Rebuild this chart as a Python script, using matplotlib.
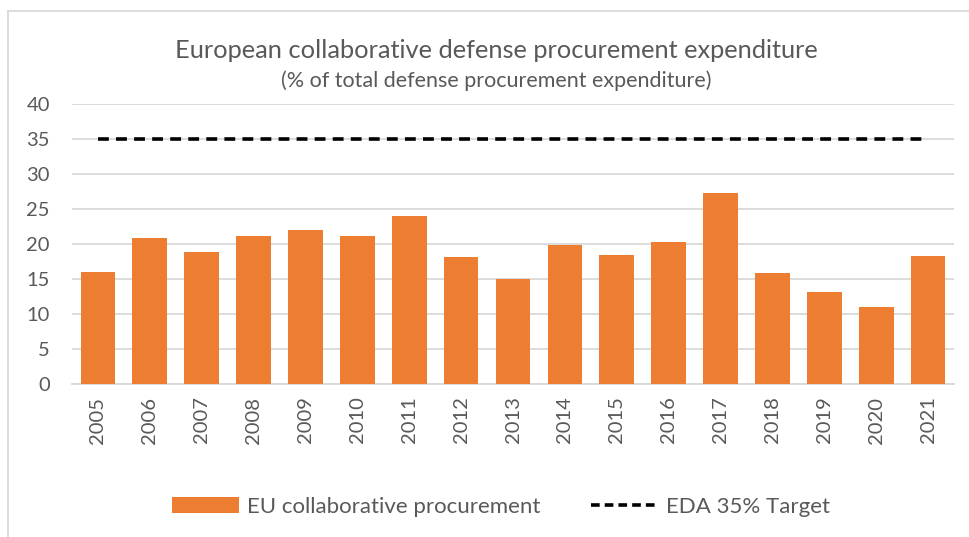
import matplotlib
matplotlib.use("Agg")
import matplotlib.pyplot as plt
from matplotlib.lines import Line2D
from matplotlib.patches import Patch

years = ["2005", "2006", "2007", "2008", "2009", "2010", "2011", "2012", "2013",
         "2014", "2015", "2016", "2017", "2018", "2019", "2020", "2021"]
collab = [16.0, 20.8, 18.9, 21.2, 22.0, 21.2, 24.0, 18.1, 15.0,
          19.8, 18.4, 20.3, 27.3, 15.9, 13.2, 11.05, 18.3]
target = [35] * len(years)
yticks = [0, 5, 10, 15, 20, 25, 30, 35, 40]

FONT = "Lato"
GRAY = "#595959"
ORANGE = "#ED7D31"
GRID = "#D9D9D9"

plt.rcParams["font.family"] = [FONT, "DejaVu Sans"]

fig = plt.figure(figsize=(9.69, 5.37), dpi=100)
ax = fig.add_axes([72/969, 1-384/537, (954-72)/969, (384-104)/537])

x = list(range(len(years)))
ax.bar(x, collab, width=0.67, color=ORANGE, zorder=3, label="EU collaborative procurement")
ax.plot(x, target, color="black", linewidth=2.6, dashes=(3.0, 2.0), zorder=4,
        label="EDA 35% Target")

ax.set_xlim(-0.5, len(years) - 0.5)
ax.set_ylim(0, 40)
ax.set_yticks(yticks)
ax.set_yticklabels([str(v) for v in yticks], fontsize=14.5, color=GRAY)
ax.set_xticks(x)
ax.set_xticklabels(years, rotation=90, fontsize=14.5, color=GRAY)
ax.tick_params(axis="both", length=0)
ax.tick_params(axis="x", pad=9)
ax.tick_params(axis="y", pad=16)
ax.grid(axis="y", color=GRID, linewidth=1.3, zorder=0)
for s in ["top", "right", "left"]:
    ax.spines[s].set_visible(False)
ax.spines["bottom"].set_color(GRID)
ax.spines["bottom"].set_linewidth(1.3)

fig.text(496/969, 1-50/537, "European collaborative defense procurement expenditure",
         ha="center", va="center", fontsize=18.3, color=GRAY)
fig.text(496/969, 1-81/537, "(% of total defense procurement expenditure)",
         ha="center", va="center", fontsize=15.5, color=GRAY)

handles = [Patch(facecolor=ORANGE, edgecolor="none"),
           Line2D([0], [0], color="black", linewidth=2.6, dashes=(2.4, 1.4))]
fig.legend(handles, ["EU collaborative procurement", "EDA 35% Target"],
           loc="center", bbox_to_anchor=(501/969, 1-507/537), ncol=2, frameon=False,
           fontsize=16, labelcolor=GRAY, handlelength=3.0, handleheight=0.75,
           columnspacing=2.3, handletextpad=0.35)

# chart border (left and top edges visible)
fig.add_artist(Line2D([7.5/969, 7.5/969], [0, 1-10.5/537], color=GRID, linewidth=1.3,
                      transform=fig.transFigure))
fig.add_artist(Line2D([7.5/969, 1], [1-10.5/537, 1-10.5/537], color=GRID, linewidth=1.3,
                      transform=fig.transFigure))

fig.savefig("out.png", dpi=100)
